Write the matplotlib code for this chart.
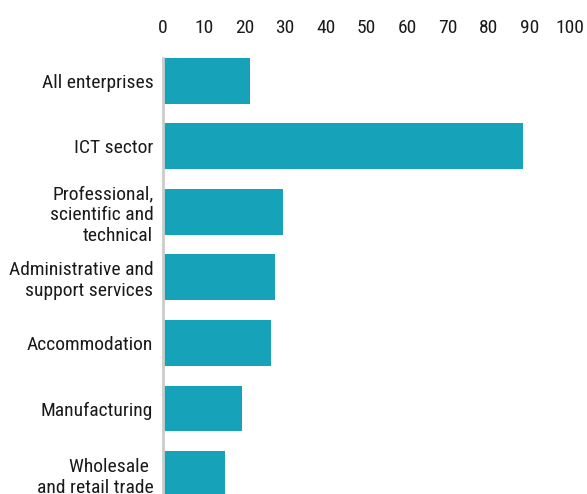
import matplotlib
matplotlib.use("Agg")
import matplotlib.pyplot as plt
from matplotlib import font_manager as fm

names = {f.name for f in fm.fontManager.ttflist}
candidates = ["Roboto Condensed", "Liberation Sans Narrow", "Open Sans Condensed",
              "Noto Sans Condensed", "DejaVu Sans Condensed", "Roboto"]
fam = next(c for c in candidates if c in names)
narrow = fam != "Roboto"
plt.rcParams["font.family"] = [fam, "DejaVu Sans"]
fsize = 14 if narrow else 12.5

categories = ["All enterprises", "ICT sector", "Professional,\nscientific and\ntechnical",
              "Administrative and\nsupport services", "Accommodation", "Manufacturing",
              "Wholesale \nand retail trade"]
values = [21.4, 88.4, 29.6, 27.6, 26.6, 19.5, 15.3]
xticks = list(range(0, 101, 10))

fig = plt.figure(figsize=(5.87, 4.94), dpi=100)
ax = fig.add_axes([163/587, 0.0, 407/587, (494-58)/494])
ypos = list(range(len(categories)))
ax.barh(ypos, values, height=0.70, color="#16a2b8")
ax.set_xlim(0, 100)
ax.set_ylim(6.304, -0.347)
ax.xaxis.tick_top()
ax.set_xticks(xticks)
ax.set_xticklabels([str(t) for t in xticks])
ax.set_yticks(ypos)
ax.set_yticklabels(categories, linespacing=1.2)
ax.tick_params(axis="x", length=0, pad=15, labelsize=fsize, colors="#1a1a1a")
ax.tick_params(axis="y", length=0, pad=7, labelsize=fsize, colors="#1a1a1a")
for s in ["top", "right", "bottom"]:
    ax.spines[s].set_visible(False)
ax.spines["left"].set_color("#cccccc")
ax.spines["left"].set_linewidth(2)
fig.savefig("out.png", dpi=100)
